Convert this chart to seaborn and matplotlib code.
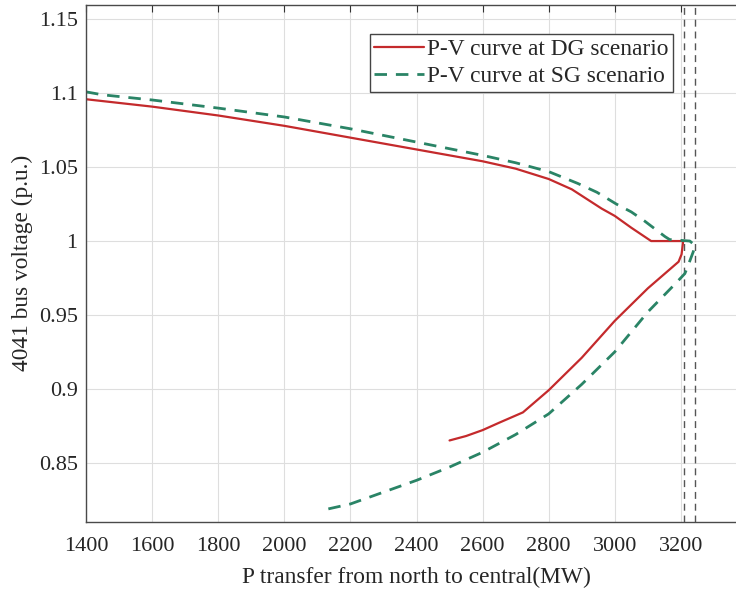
import numpy as np
import pandas as pd
import matplotlib
matplotlib.use("Agg")
import matplotlib.pyplot as plt
import seaborn as sns

# ---- data ----
dg_p = [1400, 1600, 1800, 2000, 2200, 2400, 2600, 2700, 2800, 2870, 2960, 3000, 3050, 3110, 3207,
        3202, 3193, 3100, 3000, 2900, 2800, 2722, 2650, 2600, 2550, 2500]
dg_v = [1.096, 1.091, 1.085, 1.078, 1.070, 1.062, 1.054, 1.049, 1.042, 1.035, 1.022, 1.017, 1.009, 1.000, 1.000,
        0.991, 0.986, 0.968, 0.946, 0.921, 0.899, 0.884, 0.877, 0.872, 0.868, 0.865]

sg_p = [1400, 1450, 1600, 1800, 2000, 2200, 2400, 2600, 2700, 2800, 2888, 2946, 3005, 3050, 3091, 3152, 3166, 3227,
        3243, 3237, 3221, 3212, 3187, 3100, 3000, 2900, 2800, 2700, 2600, 2500, 2400, 2300, 2200, 2120]
sg_v = [1.101, 1.099, 1.0955, 1.090, 1.084, 1.076, 1.067, 1.058, 1.053, 1.047, 1.039, 1.033, 1.025, 1.0197, 1.0134, 1.003, 1.001, 1.000,
        0.997, 0.9925, 0.983, 0.978, 0.972, 0.952, 0.925, 0.903, 0.883, 0.869, 0.857, 0.847, 0.838, 0.830, 0.822, 0.818]

limit_p = [3209, 3243]

labels = ["P-V curve at DG scenario", "P-V curve at SG scenario"]
x_ticks = [1400, 1600, 1800, 2000, 2200, 2400, 2600, 2800, 3000, 3200]
y_ticks = [0.85, 0.9, 0.95, 1.0, 1.05, 1.1, 1.15]
y_ticklabels = ["0.85", "0.9", "0.95", "1", "1.05", "1.1", "1.15"]

sns.set_theme(style="white")
plt.rcParams['font.family'] = ['Liberation Serif', 'DejaVu Serif']

fig = plt.figure(figsize=(7.36, 5.89), dpi=100)
ax = fig.add_axes([86/736, 67.3/589, 661/736, 517/589])

red = "#C42A2C"
green = "#2A8466"

df_dg = pd.DataFrame({"P": dg_p, "V": dg_v})
df_sg = pd.DataFrame({"P": sg_p, "V": sg_v})

sns.lineplot(data=df_dg, x="P", y="V", sort=False, estimator=None, ax=ax,
             color=red, linewidth=1.6, label=labels[0])
sns.lineplot(data=df_sg, x="P", y="V", sort=False, estimator=None, ax=ax,
             color=green, linewidth=2.0, label=labels[1])
ax.lines[1].set_dashes([4.5, 3.2])

for xp in limit_p:
    ax.axvline(xp, color="#555555", linewidth=1.0, dashes=[5, 3.5], zorder=1)

ax.set_xlim(1400, 3400)
ax.set_ylim(0.81, 1.16)
ax.set_xticks(x_ticks)
ax.set_yticks(y_ticks)
ax.set_yticklabels(y_ticklabels)
ax.grid(True, color="#dedede", linewidth=0.8)
ax.set_axisbelow(True)

ax.tick_params(direction="in", length=5, width=0.8, color="#333333",
               labelsize=16, labelcolor="#262626", top=True, right=True)
ax.tick_params(axis="x", pad=11)
ax.tick_params(axis="y", pad=6)
for s in ax.spines.values():
    s.set_color("#4a4a4a")
    s.set_linewidth(1.0)

ax.set_xlabel("P transfer from north to central(MW)", fontsize=16.8, color="#262626", labelpad=8)
ax.set_ylabel("4041 bus voltage (p.u.)", fontsize=16.8, color="#262626", labelpad=4)

leg = ax.legend(loc="upper right", bbox_to_anchor=(673/736, 1 - 34/589),
                bbox_transform=fig.transFigure, borderaxespad=0,
                fontsize=16.8, frameon=True, fancybox=False, handlelength=2.15,
                handletextpad=0.1, borderpad=0.2, labelspacing=0.25)
leg.get_frame().set_edgecolor("#444444")
leg.get_frame().set_linewidth(1.0)
leg.get_frame().set_alpha(1)

fig.savefig("out.png", dpi=100)
